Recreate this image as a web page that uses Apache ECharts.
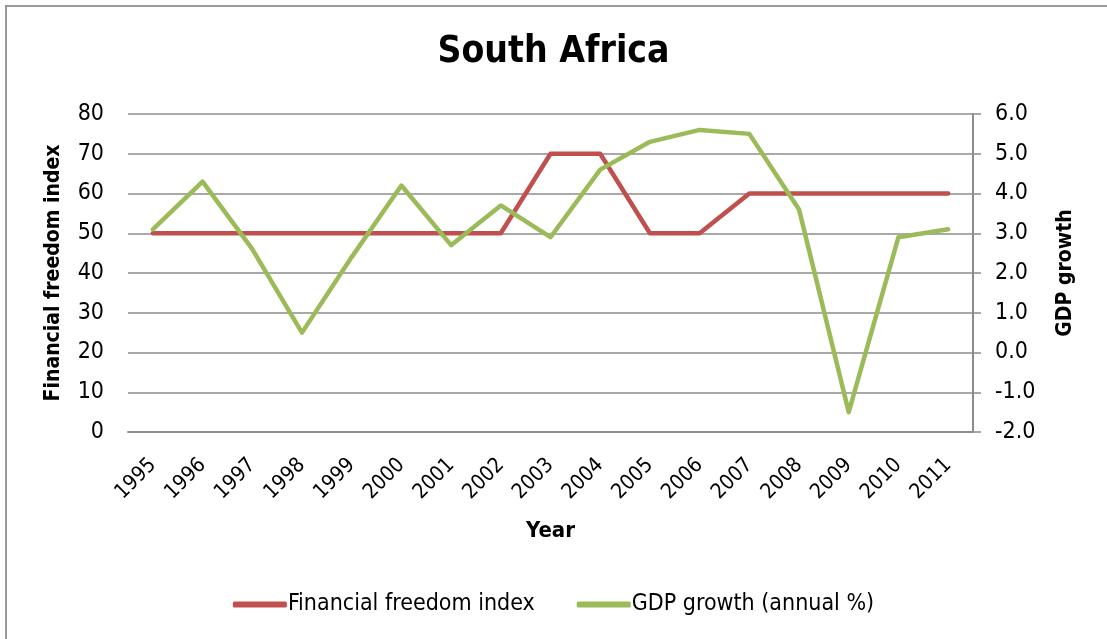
<!DOCTYPE html>
<html>
<head>
<meta charset="utf-8">
<script src="https://cdn.jsdelivr.net/npm/echarts@6/dist/echarts.min.js"></script>
<style>
  html, body { margin: 0; padding: 0; background: #fff; }
  #frame { position: absolute; left: 5px; top: 5px; width: 1110px; height: 640px;
           border-left: 2px solid #9a9a9a; border-top: 2px solid #9a9a9a; }
  #chart { position: absolute; left: 0; top: 0; width: 1107px; height: 639px; }
</style>
</head>
<body>
<div id="frame"></div>
<div id="chart"></div>
<script>
// Years on the category axis
const years = ['1995','1996','1997','1998','1999','2000','2001','2002','2003',
               '2004','2005','2006','2007','2008','2009','2010','2011'];
// Financial freedom index (left axis)
const financialFreedom = [50,50,50,50,50,50,50,50,70,70,50,50,60,60,60,60,60];
// GDP growth, annual % (right axis)
const gdpGrowth = [3.1,4.3,2.6,0.5,2.4,4.2,2.7,3.7,2.9,4.6,5.3,5.6,5.5,3.6,-1.5,2.9,3.1];

const FONT = '"DejaVu Sans Condensed", "Liberation Sans", sans-serif';
const GRID = '#8c8c8c';

const chart = echarts.init(document.getElementById('chart'), null, { renderer: 'canvas' });
chart.setOption({
  animation: false,
  backgroundColor: 'transparent',
  textStyle: { fontFamily: FONT },
  title: {
    text: 'South Africa',
    left: 'center',
    top: 29,
    textStyle: { fontFamily: FONT, fontSize: 37, fontWeight: 'bold', color: '#000' }
  },
  legend: {
    bottom: 18,
    left: 'center',
    itemWidth: 54,
    itemHeight: 6,
    itemGap: 42,
    icon: 'roundRect',
    textStyle: { fontFamily: FONT, fontSize: 23, color: '#000', padding: [0, 0, 0, -4] },
    data: ['Financial freedom index', 'GDP growth (annual %)']
  },
  grid: { left: 128, right: 134, top: 114, bottom: 207, containLabel: false },
  xAxis: {
    type: 'category',
    data: years,
    boundaryGap: true,
    name: 'Year',
    nameLocation: 'middle',
    nameGap: 88,
    nameTextStyle: { fontFamily: FONT, fontSize: 22, fontWeight: 'bold', color: '#000' },
    axisLine: { lineStyle: { color: GRID, width: 2 } },
    axisTick: { alignWithLabel: true, inside: true, length: 6, lineStyle: { color: GRID, width: 1.5 } },
    axisLabel: { rotate: 45, fontSize: 21, color: '#000', margin: 30, interval: 0 }
  },
  yAxis: [
    {
      type: 'value',
      min: 0, max: 80, interval: 10,
      name: 'Financial freedom index',
      nameLocation: 'middle',
      nameGap: 64,
      nameRotate: 90,
      nameTextStyle: { fontFamily: FONT, fontSize: 21, fontWeight: 'bold', color: '#000' },
      axisLine: { show: false },
      axisTick: { show: false },
      axisLabel: { fontSize: 23, color: '#000', margin: 24 },
      splitLine: { lineStyle: { color: GRID, width: 1.5 } }
    },
    {
      type: 'value',
      min: -2, max: 6, interval: 1,
      name: 'GDP growth',
      nameLocation: 'middle',
      nameGap: 82,
      nameRotate: 90,
      nameTextStyle: { fontFamily: FONT, fontSize: 21, fontWeight: 'bold', color: '#000' },
      axisLine: { show: true, lineStyle: { color: GRID, width: 2 } },
      axisTick: { show: true, length: 8, lineStyle: { color: GRID, width: 1.5 } },
      axisLabel: { fontSize: 23, color: '#000', margin: 22, formatter: v => v.toFixed(1) },
      splitLine: { show: false }
    }
  ],
  series: [
    {
      name: 'Financial freedom index',
      type: 'line',
      yAxisIndex: 0,
      data: financialFreedom,
      symbol: 'none',
      lineStyle: { color: '#c0504d', width: 4.5, cap: 'round', join: 'round' },
      itemStyle: { color: '#c0504d' }
    },
    {
      name: 'GDP growth (annual %)',
      type: 'line',
      yAxisIndex: 1,
      data: gdpGrowth,
      symbol: 'none',
      lineStyle: { color: '#9bbb59', width: 4.5, cap: 'round', join: 'round' },
      itemStyle: { color: '#9bbb59' }
    }
  ]
});
</script>
</body>
</html>
